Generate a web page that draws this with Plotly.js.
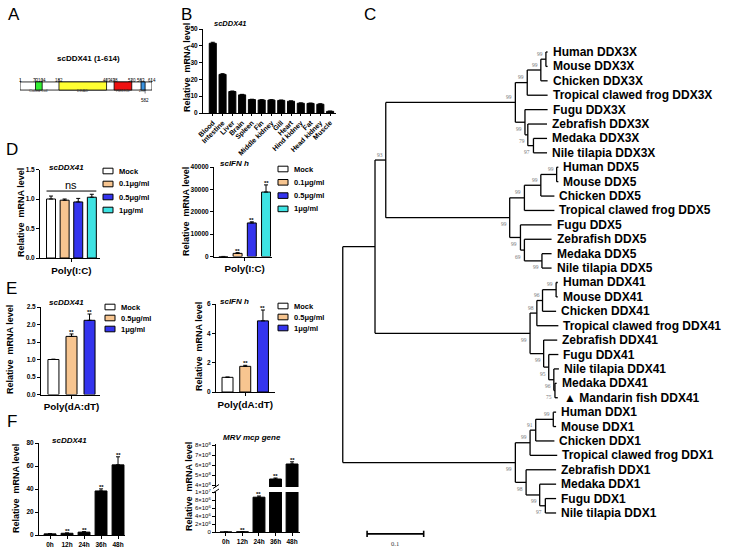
<!DOCTYPE html>
<html><head><meta charset="utf-8">
<script src="https://cdn.plot.ly/plotly-3.0.1.min.js"></script>
<style>html,body{margin:0;padding:0;background:#fff}#chart{width:734px;height:550px}</style>
</head><body><div id="chart"></div>
<script>
// ================= DATA =================
// Panel A: scDDX41 protein schematic (amino-acid positions)
const proteinLength = 614;
const domainNames = ['Coiled coil', 'DEAD', 'HELICc', 'ZnF'];
const domainStart = [73, 182, 438, 563];
const domainEnd = [104, 403, 520, 582];
const siteLabelsTop = [1, 73, 104, 182, 403, 438, 520, 563, 614];
const siteLabelsBottom = [582];

// Panel B: tissue distribution
const tissues = ['Blood','Intestine','Liver','Brain','Spleen','Fin','Middle kidney','Gill','Heart','Hind kidney','Fat','Head kidney','Muscle'];
const tissueDDX41 = [41.5, 23.0, 12.8, 10.8, 8.0, 7.7, 7.7, 7.5, 7.0, 5.8, 5.7, 5.2, 1.0];
const tissueDDX41Err = [0.6, 0.4, 0.3, 0.3, 0.2, 0.2, 0.2, 0.2, 0.2, 0.2, 0.2, 0.3, 0.1];

// Panel D: Poly(I:C)
const dosesPolyIC = ['Mock','0.1μg/ml','0.5μg/ml','1μg/ml'];
const ddx41PolyIC = [1.00, 0.98, 0.95, 1.03];
const ddx41PolyICErr = [0.05, 0.02, 0.06, 0.05];
const ifnPolyIC = [1, 1400, 15000, 28800];
const ifnPolyICErr = [30, 300, 500, 3200];
const sigIfnPolyIC = ['', '**', '**', '**'];

// Panel E: Poly(dA:dT)
const dosesPolydAdT = ['Mock','0.5μg/ml','1μg/ml'];
const ddx41PolydAdT = [1.00, 1.66, 2.12];
const ddx41PolydAdTErr = [0.01, 0.07, 0.18];
const sigDdx41PolydAdT = ['', '**', '**'];
const ifnPolydAdT = [1.00, 1.75, 4.85];
const ifnPolydAdTErr = [0.02, 0.07, 0.74];
const sigIfnPolydAdT = ['', '**', '**'];

// Panel F: MRV infection time course
const timePoints = ['0h','12h','24h','36h','48h'];
const ddx41MRV = [1.0, 1.5, 2.5, 38.3, 61.0];
const ddx41MRVErr = [0.1, 0.3, 0.4, 1.8, 7.0];
const sigDdx41MRV = ['', '**', '**', '**', '**'];
const mcpMRV = [1e3, 5e4, 8.7e6, 4.6e8, 6.1e8];
const mcpMRVErr = [0, 2e4, 3e5, 1.0e7, 2.2e7];
const sigMcpMRV = ['', '**', '**', '**', '**'];
const mcpLowTicks = [0, 2e6, 4e6, 6e6, 8e6, 1e7];
const mcpLowTickText = ['0','2×10<sup>6</sup>','4×10<sup>6</sup>','6×10<sup>6</sup>','8×10<sup>6</sup>','1×10<sup>7</sup>'];
const mcpHighTicks = [4e8, 5e8, 6e8, 7e8, 8e8];
const mcpHighTickText = ['4×10<sup>8</sup>','5×10<sup>8</sup>','6×10<sup>8</sup>','7×10<sup>8</sup>','8×10<sup>8</sup>'];

// Panel C: phylogenetic tree (Newick, bootstrap values as node labels)
const cladeDDX3X = "((((Human DDX3X:0.003,Mouse DDX3X:0.003)99:0.009,Chicken DDX3X:0.012)99:0.024,Tropical clawed frog DDX3X:0.036)99:0.021,(Fugu DDX3X:0.040,(Zebrafish DDX3X:0.034,(Medaka DDX3X:0.024,Nile tilapia DDX3X:0.024)97:0.010)79:0.005)99:0.017)99:0.229";
const cladeDDX5 = "((((Human DDX5:0.003,Mouse DDX5:0.003)99:0.028,Chicken DDX5:0.024)99:0.029,Tropical clawed frog DDX5:0.053)99:0.026,(Fugu DDX5:0.055,(Zebrafish DDX5:0.048,(Medaka DDX5:0.017,Nile tilapia DDX5:0.017)99:0.031)69:0.007)99:0.019)99:0.219";
const cladeDDX41 = "((((Human DDX41:0.003,Mouse DDX41:0.003)99:0.024,Chicken DDX41:0.024)96:0.010,Tropical clawed frog DDX41:0.038)98:0.012,(Zebrafish DDX41:0.024,(Fugu DDX41:0.017,(Nile tilapia DDX41:0.009,(Medaka DDX41:0.003,▲ Mandarin fish DDX41:0.005)75:0.002)96:0.009)95:0.009)99:0.024)99:0.274";
const cladeDDX1 = "((((Human DDX1:0.005,Mouse DDX1:0.005)99:0.031,Chicken DDX1:0.033)91:0.010,Tropical clawed frog DDX1:0.048)99:0.026,(Zebrafish DDX1:0.053,(Medaka DDX1:0.029,(Fugu DDX1:0.019,Nile tilapia DDX1:0.019)97:0.010)99:0.024)98:0.019)99:0.305";
const treeNewick = "(((" + cladeDDX3X + "," + cladeDDX5 + ")93:0.019," + cladeDDX41 + "):0.057," + cladeDDX1 + ");";
const scaleBarLength = 0.1;

// ================= STYLE / HELPERS =================
const FONT = 'Liberation Sans, Arial, Helvetica, sans-serif';
const SERIF = 'Liberation Serif, Times New Roman, serif';
const W = 734, H = 550;
const X = px => px / W;
const Y = py => 1 - py / H;
const dose4Colors = ['#ffffff', '#f7c590', '#3434ee', '#3ee3e3'];
const dose3Colors = ['#ffffff', '#f7c590', '#3434ee'];
const domainColors = ['#33ee33', '#ffff33', '#ee1111', '#3a93e0'];

const traces = [], ann = [], shapes = [];
function addText(px, py, text, size, opts) {
  ann.push(Object.assign({xref:'paper', yref:'paper', x:X(px), y:Y(py), text:text, showarrow:false,
    font:{family:FONT, size:size, color:'#000'}, xanchor:'center', yanchor:'middle'}, opts || {}));
}
const idx = arr => arr.map((_, i) => i);
function barTrace(xs, ys, errs, colors, xa, ya, width) {
  return {type:'bar', x:xs, y:ys, xaxis:xa, yaxis:ya, width:width, showlegend:false, hoverinfo:'skip',
    marker:{color:colors, line:{color:'#000', width:1}},
    error_y:{type:'data', symmetric:false, array:errs, arrayminus:errs.map(() => 0), color:'#000', thickness:1, width:2}};
}
function addStars(xs, ys, errs, sig, xa, ya) {
  xs.forEach((x, i) => {
    if (!sig[i]) return;
    ann.push({xref:xa, yref:ya, x:x, y:ys[i] + errs[i], text:'<b>' + sig[i] + '</b>', showarrow:false,
      yanchor:'bottom', yshift:-3, font:{family:FONT, size:6, color:'#000'}});
  });
}
function addLegend(labels, colors, sx, sy, step) {
  labels.forEach((lab, i) => {
    const cy = sy + i * step;
    shapes.push({type:'rect', xref:'paper', yref:'paper', x0:X(sx), x1:X(sx + 10), y0:Y(cy + 2.8), y1:Y(cy - 2.8),
      fillcolor:colors[i], line:{color:'#000', width:1}});
    addText(sx + 14, cy, '<b>' + lab + '</b>', 7.5, {xanchor:'left'});
  });
}
const axisBase = {showline:true, linecolor:'#000', linewidth:1, ticks:'outside', ticklen:3, tickwidth:1,
  tickcolor:'#000', showgrid:false, zeroline:false, fixedrange:true,
  tickfont:{family:FONT, size:6.5, weight:'bold', color:'#000'}};
const ax = o => Object.assign({}, axisBase, o);
const catFont = {family:FONT, size:9.8, weight:'bold', color:'#000'};
const yTitle = 'Relative\u00a0 mRNA level';

// ================= PANEL A =================
traces.push({type:'bar', orientation:'h', base:[1], x:[proteinLength - 1], y:[0.5], width:0.27,
  xaxis:'x9', yaxis:'y9', marker:{color:'#ffffff', line:{color:'#000', width:0.8}}, hoverinfo:'skip', showlegend:false});
traces.push({type:'bar', orientation:'h', base:domainStart, x:domainEnd.map((e, i) => e - domainStart[i]),
  y:domainStart.map(() => 0.5), width:0.27, xaxis:'x9', yaxis:'y9',
  marker:{color:domainColors, line:{color:'#000', width:0.8}}, hoverinfo:'skip', showlegend:false});
domainNames.forEach((n, i) => {
  ann.push({xref:'x9', yref:'paper', x:(domainStart[i] + domainEnd[i]) / 2, y:Y(86), text:n, showarrow:false,
    font:{family:FONT, size:4, color:'#333'}});
});
siteLabelsTop.forEach(s => {
  shapes.push({type:'line', xref:'x9', yref:'paper', x0:s, x1:s, y0:Y(78.5), y1:Y(82), line:{color:'#000', width:0.5}});
  ann.push({xref:'x9', yref:'paper', x:s, y:Y(76), text:String(s), showarrow:false, font:{family:FONT, size:4.5, color:'#000'}});
});
siteLabelsBottom.forEach(s => {
  shapes.push({type:'line', xref:'x9', yref:'paper', x0:s, x1:s, y0:Y(90), y1:Y(93.5), line:{color:'#000', width:0.5}});
  ann.push({xref:'x9', yref:'paper', x:s, y:Y(96.5), text:String(s), showarrow:false, font:{family:FONT, size:4.5, color:'#000'}});
});
addText(88, 58, '<b>scDDX41 (1-614)</b>', 8);

// ================= PANEL B =================
traces.push(barTrace(tissues, tissueDDX41, tissueDDX41Err, '#000', 'x', 'y', 0.72));
addText(212, 23, '<b><i>scDDX41</i></b>', 7.5, {xanchor:'left'});
addText(187, 68, '<b>' + yTitle + '</b>', 9, {textangle:-90});

// ================= PANEL D =================
traces.push(barTrace(idx(dosesPolyIC), ddx41PolyIC, ddx41PolyICErr, dose4Colors, 'x2', 'y2', 0.66));
traces.push(barTrace(idx(dosesPolyIC), ifnPolyIC, ifnPolyICErr, dose4Colors, 'x3', 'y3', 0.63));
addStars(idx(dosesPolyIC), ifnPolyIC, ifnPolyICErr, sigIfnPolyIC, 'x3', 'y3');
shapes.push({type:'line', xref:'x2', yref:'y2', x0:-0.33, x1:dosesPolyIC.length - 1 + 0.33, y0:1.135, y1:1.135, line:{color:'#000', width:1}});
ann.push({xref:'x2', yref:'y2', x:(dosesPolyIC.length - 1) / 2, y:1.135, text:'ns', showarrow:false, yanchor:'bottom', yshift:-2,
  font:{family:FONT, size:11, color:'#000'}});
addText(47, 167, '<b><i>scDDX41</i></b>', 8, {xanchor:'left'});
addText(218, 163, '<b><i>scIFN h</i></b>', 8, {xanchor:'left'});
addText(21, 213, '<b>' + yTitle + '</b>', 9, {textangle:-90});
addText(186, 212, '<b>' + yTitle + '</b>', 9, {textangle:-90});
addLegend(dosesPolyIC, dose4Colors, 103, 171, 13);
addLegend(dosesPolyIC, dose4Colors, 278, 169, 13.3);

// ================= PANEL E =================
traces.push(barTrace(idx(dosesPolydAdT), ddx41PolydAdT, ddx41PolydAdTErr, dose3Colors, 'x4', 'y4', 0.61));
traces.push(barTrace(idx(dosesPolydAdT), ifnPolydAdT, ifnPolydAdTErr, dose3Colors, 'x5', 'y5', 0.62));
addStars(idx(dosesPolydAdT), ddx41PolydAdT, ddx41PolydAdTErr, sigDdx41PolydAdT, 'x4', 'y4');
addStars(idx(dosesPolydAdT), ifnPolydAdT, ifnPolydAdTErr, sigIfnPolydAdT, 'x5', 'y5');
addText(47, 302, '<b><i>scDDX41</i></b>', 8, {xanchor:'left'});
addText(218, 301, '<b><i>scIFN h</i></b>', 8, {xanchor:'left'});
addText(10, 350, '<b>' + yTitle + '</b>', 9, {textangle:-90});
addText(199, 347, '<b>' + yTitle + '</b>', 9, {textangle:-90});
addLegend(dosesPolydAdT, dose3Colors, 105, 307, 11);
addLegend(dosesPolydAdT, dose3Colors, 278, 306, 11);

// ================= PANEL F =================
traces.push(barTrace(idx(timePoints), ddx41MRV, ddx41MRVErr, '#000', 'x6', 'y6', 0.7));
addStars(idx(timePoints), ddx41MRV, ddx41MRVErr, sigDdx41MRV, 'x6', 'y6');
traces.push(barTrace(idx(timePoints), mcpMRV, mcpMRVErr, '#000', 'x7', 'y7', 0.72));
traces.push(barTrace(idx(timePoints), mcpMRV, mcpMRVErr, '#000', 'x7', 'y8', 0.72));
const lowMax = mcpLowTicks[mcpLowTicks.length - 1];
idx(timePoints).forEach(i => {
  if (!sigMcpMRV[i]) return;
  const top = mcpMRV[i] + mcpMRVErr[i];
  addStars([i], [mcpMRV[i]], [mcpMRVErr[i]], [sigMcpMRV[i]], 'x7', top > lowMax ? 'y8' : 'y7');
});
addText(50, 440, '<b><i>scDDX41</i></b>', 8, {xanchor:'left'});
addText(252, 437, '<b><i>MRV mcp gene</i></b>', 8);
addText(16, 489, '<b>' + yTitle + '</b>', 9, {textangle:-90});
addText(189, 487, '<b>' + yTitle + '</b>', 9, {textangle:-90});
shapes.push({type:'line', xref:'paper', yref:'paper', x0:X(213), x1:X(219), y0:Y(488.5), y1:Y(484.5), line:{color:'#000', width:1}});
shapes.push({type:'line', xref:'paper', yref:'paper', x0:X(213), x1:X(219), y0:Y(493), y1:Y(489), line:{color:'#000', width:1}});

// ================= PANEL C : TREE =================
function parseNewick(s) {
  let i = 0;
  function node() {
    const n = {children:[], name:'', label:'', len:0};
    if (s[i] === '(') {
      i++;
      n.children.push(node());
      while (s[i] === ',') { i++; n.children.push(node()); }
      i++; // ')'
    }
    let name = '';
    while (i < s.length && ':,);'.indexOf(s[i]) < 0) name += s[i++];
    if (n.children.length) n.label = name; else n.name = name;
    if (s[i] === ':') {
      i++;
      let num = '';
      while (i < s.length && ',);'.indexOf(s[i]) < 0) num += s[i++];
      n.len = parseFloat(num);
    }
    return n;
  }
  return node();
}
const treeRoot = parseNewick(treeNewick);
let leafCounter = 0;
(function place(n, px) {
  n.x = px + n.len;
  if (!n.children.length) { n.y = leafCounter++; return; }
  n.children.forEach(c => place(c, n.x));
  n.y = (n.children[0].y + n.children[n.children.length - 1].y) / 2;
})(treeRoot, 0);
const tx = [], ty = [];
(function draw(n) {
  if (!n.children.length) {
    const tri = n.name.indexOf('▲') === 0;
    ann.push({xref:'x10', yref:'y10', x:n.x, y:n.y, text:'<b>' + n.name + '</b>', showarrow:false,
      xanchor:'left', yanchor:'middle', xshift: tri ? 4 : 3, font:{family:FONT, size:12, color:'#000'}});
    return;
  }
  const last = n.children[n.children.length - 1];
  tx.push(n.x, n.x, null); ty.push(n.children[0].y, last.y, null);
  n.children.forEach((c, k) => {
    tx.push(n.x, c.x, null); ty.push(c.y, c.y, null);
    if (c.children.length && c.label) {
      ann.push({xref:'x10', yref:'y10', x:c.x, y:c.y, text:c.label, showarrow:false, xanchor:'right', yanchor:'middle',
        xshift:-1, yshift: k === 0 ? 5.5 : -6.5, font:{family:SERIF, size:5.5, color:'#777'}});
    }
    draw(c);
  });
})(treeRoot);
traces.push({type:'scatter', mode:'lines', x:tx, y:ty, xaxis:'x10', yaxis:'y10', line:{color:'#000', width:1.3},
  hoverinfo:'skip', showlegend:false});
const sb0 = 0.043, sbY = 33.45;
traces.push({type:'scatter', mode:'lines', xaxis:'x10', yaxis:'y10', hoverinfo:'skip', showlegend:false,
  x:[sb0, sb0 + scaleBarLength, null, sb0, sb0, null, sb0 + scaleBarLength, sb0 + scaleBarLength],
  y:[sbY, sbY, null, sbY - 0.22, sbY + 0.22, null, sbY - 0.22, sbY + 0.22], line:{color:'#000', width:1.6}});
ann.push({xref:'x10', yref:'y10', x:sb0 + scaleBarLength / 2, y:34.1, text:String(scaleBarLength), showarrow:false,
  font:{family:SERIF, size:6.5, color:'#333'}});

// Panel letters
addText(14, 14, 'A', 17); addText(186, 14, 'B', 17); addText(370, 14, 'C', 17);
addText(12, 149, 'D', 17); addText(12, 288, 'E', 17); addText(12, 421, 'F', 17);

// ================= LAYOUT =================
const layout = {
  width:W, height:H, margin:{l:0, r:0, t:0, b:0}, paper_bgcolor:'#fff', plot_bgcolor:'rgba(0,0,0,0)',
  showlegend:false, barmode:'overlay', font:{family:FONT, color:'#000'},
  xaxis: ax({domain:[X(203), X(336)], anchor:'y', type:'category', range:[-1, 12.6], tickangle:-45, ticklen:2,
    tickfont:{family:FONT, size:7, weight:'bold', color:'#000'}}),
  yaxis: ax({domain:[Y(113), Y(29)], anchor:'x', range:[0, 50], tick0:0, dtick:10}),
  xaxis2: ax({domain:[X(40), X(100)], anchor:'y2', range:[-0.81, 3.6], tickvals:[(dosesPolyIC.length - 1) / 2], ticktext:['Poly(I:C)'], tickfont:catFont}),
  yaxis2: ax({domain:[Y(258), Y(169.5)], anchor:'x2', range:[0, 1.5], tick0:0, dtick:0.5, tickformat:'.1f'}),
  xaxis3: ax({domain:[X(214), X(272)], anchor:'y3', range:[-0.66, 3.42], tickvals:[(dosesPolyIC.length - 1) / 2], ticktext:['Poly(I:C)'], tickfont:catFont}),
  yaxis3: ax({domain:[Y(256.5), Y(167)], anchor:'x3', range:[0, 40000], tick0:0, dtick:10000, tickformat:'d'}),
  xaxis4: ax({domain:[X(41), X(100)], anchor:'y4', range:[-0.69, 2.58], tickvals:[(dosesPolydAdT.length - 1) / 2], ticktext:['Poly(dA:dT)'], tickfont:catFont}),
  yaxis4: ax({domain:[Y(394.5), Y(307)], anchor:'x4', range:[0, 2.5], tick0:0, dtick:0.5, tickformat:'.1f'}),
  xaxis5: ax({domain:[X(216), X(275)], anchor:'y5', range:[-0.65, 2.68], tickvals:[(dosesPolydAdT.length - 1) / 2], ticktext:['Poly(dA:dT)'], tickfont:catFont}),
  yaxis5: ax({domain:[Y(392), Y(304)], anchor:'x5', range:[0, 6], tick0:0, dtick:2}),
  xaxis6: ax({domain:[X(39), X(125)], anchor:'y6', range:[-0.65, 4.41], tickvals:idx(timePoints), ticktext:timePoints}),
  yaxis6: ax({domain:[Y(535), Y(443)], anchor:'x6', range:[0, 80], tick0:0, dtick:20}),
  xaxis7: ax({domain:[X(216), X(300)], anchor:'y7', range:[-0.6, 4.48], tickvals:idx(timePoints), ticktext:timePoints}),
  yaxis7: ax({domain:[Y(532), Y(492)], anchor:'x7', range:[0, lowMax], tickvals:mcpLowTicks, ticktext:mcpLowTickText,
    tickfont:{family:FONT, size:6, color:'#000'}}),
  yaxis8: ax({domain:[Y(487), Y(444)], anchor:'x7', range:[3.8e8, 8.1e8], tickvals:mcpHighTicks, ticktext:mcpHighTickText,
    tickfont:{family:FONT, size:6, color:'#000'}}),
  xaxis9: {domain:[X(20), X(152)], anchor:'y9', range:[1, proteinLength], visible:false, fixedrange:true},
  yaxis9: {domain:[Y(101), Y(71)], anchor:'x9', range:[0, 1], visible:false, fixedrange:true},
  xaxis10: {domain:[X(333), 1], anchor:'y10', range:[-10 / 580, 401 / 580], visible:false, fixedrange:true},
  yaxis10: {domain:[0, Y(40)], anchor:'x10', range:[34.57, -0.833], visible:false, fixedrange:true},
  annotations: ann, shapes: shapes
};
Plotly.newPlot('chart', traces, layout, {staticPlot:true, displayModeBar:false});
</script>
</body></html>
